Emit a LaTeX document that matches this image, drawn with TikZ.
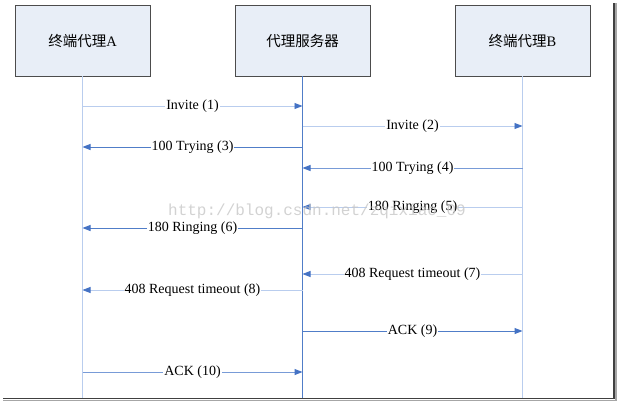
\documentclass[tikz,border=0pt]{standalone}
\usepackage{fontspec}
\setmainfont{Liberation Serif}
\newfontfamily\cjk{Noto Sans CJK SC}
\newfontfamily\wmfont{Liberation Mono}
\usetikzlibrary{arrows.meta}
\definecolor{boxfill}{RGB}{232,238,247}
\definecolor{tipblue}{RGB}{68,114,196}
\definecolor{linedark}{RGB}{80,125,200}
\definecolor{linemid}{RGB}{120,155,215}
\definecolor{linepale}{RGB}{185,205,238}

\begin{document}
\begin{tikzpicture}[x=1pt,y=-1pt,
  actor/.style={draw=black!70, fill=boxfill, line width=0.8pt,
    minimum width=135pt, minimum height=71pt, font=\fontsize{14.5}{16}\selectfont},
  life/.style={line width=1pt},
  msg/.style={-{Triangle[length=8pt,width=6pt,color=tipblue]}},
  lbl/.style={fill=white, inner sep=1pt, font=\fontsize{14}{16}\selectfont},
  pale/.style={draw=linepale, line width=0.8pt},
  mid/.style={draw=linemid, line width=1pt},
  dark/.style={draw=linedark, line width=1pt}]
  \useasboundingbox (0,0) rectangle (617,402);

  % participants
  \node[actor] (A) at (82.5,40.5) {{\cjk 终端代理}A};
  \node[actor] (S) at (302.5,40.5) {{\cjk 代理服务器}};
  \node[actor] (B) at (522.5,40.5) {{\cjk 终端代理}B};

  % life lines
  \draw[life, linepale] (A.south) -- (A.south |- 0,398);
  \draw[life, linedark] (S.south) -- (S.south |- 0,398);
  \draw[life, linepale] (B.south) -- (B.south |- 0,398);

  % messages
  \foreach \y/\f/\t/\txt/\c in {
    106/A/S/{Invite (1)}/pale,
    126/S/B/{Invite (2)}/pale,
    147/S/A/{100 Trying (3)}/dark,
    168/B/S/{100 Trying (4)}/mid,
    207/B/S/{180 Ringing (5)}/pale,
    228/S/A/{180 Ringing (6)}/dark,
    274/B/S/{408 Request timeout (7)}/pale,
    290/S/A/{408 Request timeout (8)}/pale,
    331/S/B/{ACK (9)}/dark,
    372/A/S/{ACK (10)}/mid}
    \draw[msg,\c] (\f.south |- 0,\y) -- node[lbl] {\txt} (\t.south |- 0,\y);

  % watermark
  \node[text=black!22, opacity=0.8, font=\wmfont\fontsize{16}{18}\selectfont] (wm) at (317,211) {http://blog.csdn.net/zqixiao\_09};

  % frame shadow
  \coordinate (tr) at (614,3);
  \coordinate (br) at (614,398.5);
  \coordinate (bl) at (3,398.5);
  \draw[black!75, line width=1.8pt] (tr) -- (br) -- (bl);
  \draw[black!35, line width=1.5pt] ([shift={(1.8,0)}]tr) -- ([shift={(1.8,1.8)}]br) -- ([shift={(0,1.8)}]bl);
\end{tikzpicture}
\end{document}
